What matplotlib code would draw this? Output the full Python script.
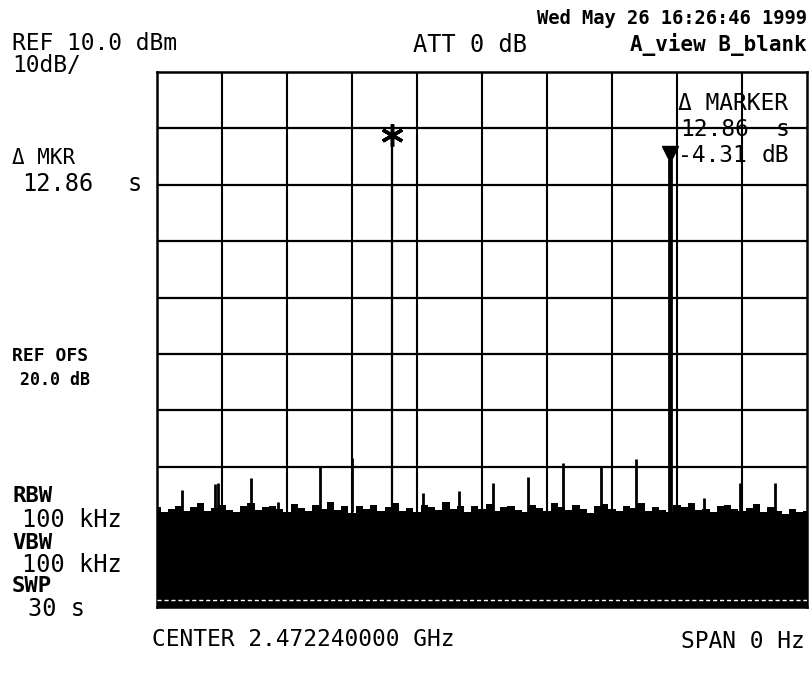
import matplotlib
matplotlib.use("Agg")
import matplotlib.pyplot as plt
import numpy as np

# ---- data ----
sweep_time_s = 30.0
ref_level_dbm = 10.0
db_per_div = 10.0

# noise floor upper edge, sampled every 1/3 s from 0 to 30 s
noise_top = [-67.2, -68.0, -67.5, -66.9, -67.8, -67.1, -66.5, -67.9, -67.3, -66.8,
             -67.6, -68.1, -67.0, -66.4, -67.7, -67.2, -66.9, -67.5, -68.0, -66.6,
             -67.3, -67.9, -66.8, -67.4, -66.2, -67.6, -67.0, -68.2, -66.9, -67.5,
             -66.7, -67.8, -67.1, -66.5, -67.9, -67.3, -68.0, -66.8, -67.2, -67.7,
             -66.3, -67.5, -67.0, -68.1, -66.9, -67.4, -66.6, -67.8, -67.2, -66.9,
             -67.6, -68.0, -66.7, -67.3, -67.9, -66.5, -67.2, -67.7, -66.8, -67.4,
             -68.2, -67.0, -66.6, -67.5, -67.9, -66.9, -67.3, -66.4, -67.8, -67.1,
             -67.6, -68.0, -66.8, -67.2, -66.5, -67.7, -67.4, -68.1, -67.0, -66.7,
             -67.5, -67.9, -67.3, -66.6, -68.0, -67.2, -67.8, -68.3, -67.5, -68.1,
             -67.9]

# small spikes above the noise: time (s) and level (dBm)
spike_times = [1.14, 2.68, 2.83, 4.34, 5.58, 7.52, 9.00, 12.28, 13.94, 15.51,
               17.12, 18.74, 20.49, 22.11, 25.25, 26.91, 28.52]
spike_levels = [-64.1, -63.0, -62.8, -62.0, -66.2, -60.0, -58.4, -64.6, -64.3, -62.9,
                -61.8, -59.3, -60.0, -58.6, -65.5, -62.8, -62.8]

# markers
marker_time = 10.83
marker_level = -1.2
delta_time = 12.86
delta_db = -4.31

# ---- figure ----
W, H = 811, 691
fig = plt.figure(figsize=(W / 100, H / 100), dpi=100)
fig.patch.set_facecolor("white")

left, right, top, bottom = 157, 807, 72, 607
ax = fig.add_axes([left / W, 1 - bottom / H, (right - left) / W, (bottom - top) / H])
ymin = ref_level_dbm - (bottom - top) / 56.4 * db_per_div
ax.set_xlim(0, sweep_time_s)
ax.set_ylim(ymin, ref_level_dbm)
ax.set_xticks([])
ax.set_yticks([])
for s in ax.spines.values():
    s.set_linewidth(1.8)
    s.set_color("black")

# grid
for k in range(1, 10):
    ax.axvline(k * sweep_time_s / 10, color="black", lw=1.5, zorder=1)
for k in range(1, 10):
    ax.axhline(ref_level_dbm - k * db_per_div, color="black", lw=1.6, zorder=1)

# noise band
t_noise = np.linspace(0, sweep_time_s, len(noise_top))
ax.fill_between(t_noise, noise_top, ymin - 1, step="mid", color="black", lw=0, zorder=3)
ax.axhline(ymin + 1.2, color="white", lw=1.0, ls=(0, (3, 2)), zorder=4)

# spikes
floor = -68.0
ax.vlines(spike_times, floor, spike_levels, color="black", lw=2.0, zorder=3)

# main marker
ax.vlines([marker_time], floor, marker_level, color="black", lw=1.6, zorder=3)
ax.plot([marker_time], [marker_level], marker=(6, 2, 0), ms=16, mew=2.5, color="black", zorder=5)

# delta marker
dt = marker_time + delta_time
dl = marker_level + delta_db
ax.vlines([dt - 0.05, dt + 0.05], floor, dl, color="black", lw=2.0, zorder=3)
ax.plot([dt], [dl + 1.0], marker="v", ms=12, color="black", zorder=5)

# ---- text ----
mono = "DejaVu Sans Mono"

def put(x, y, s, size=17, weight="normal", ha="left"):
    fig.text(x / W, 1 - y / H, s, fontsize=size, family=mono, weight=weight,
             ha=ha, va="center", color="black")

put(807, 18, "Wed May 26 16:26:46 1999", size=13.5, weight="bold", ha="right")
put(12, 43, "REF 10.0 dBm", size=16.5)
put(12, 66, "10dB/", size=16.5)
put(470, 45, "ATT 0 dB", ha="center")
put(807, 45, "A_view B_blank", size=15, weight="bold", ha="right")

put(12, 158, "\u0394 MKR", size=15)
put(22, 184, "12.86", size=17)
put(128, 184, "s", size=17)

put(12, 356, "REF OFS", size=13, weight="bold")
put(20, 380, "20.0 dB", size=12, weight="bold")

put(12, 496, "RBW", size=16, weight="bold")
put(22, 520, "100 kHz", size=17)
put(12, 543, "VBW", size=16, weight="bold")
put(22, 565, "100 kHz", size=17)
put(12, 586, "SWP", size=16, weight="bold")
put(28, 609, "30 s", size=17)

put(678, 104, "\u0394 MARKER", size=16.5)
put(680, 130, "12.86", size=16.5)
put(776, 130, "s", size=16.5)
put(678, 155, "-4.31", size=16.5)
put(762, 155, "dB", size=16.5)

put(152, 640, "CENTER 2.472240000 GHz", size=16.5)
put(805, 642, "SPAN 0 Hz", size=16.5, ha="right")

fig.savefig("out.png", dpi=100, facecolor="white")
